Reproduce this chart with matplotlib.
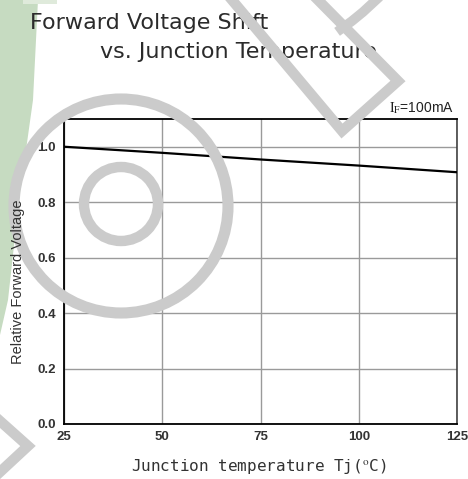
import matplotlib
matplotlib.use("Agg")
import matplotlib.pyplot as plt
from matplotlib.patches import Circle, Polygon, Rectangle

# data
tj = [25, 50, 75, 100, 125]
vf_rel = [1.0, 0.978, 0.954, 0.932, 0.908]

x_ticks = [25, 50, 75, 100, 125]
y_ticks = [0.0, 0.2, 0.4, 0.6, 0.8, 1.0]
y_tick_labels = ["0.0", "0.2", "0.4", "0.6", "0.8", "1.0"]

W, H = 468, 479
plt.rcParams["mathtext.fontset"] = "stix"

fig = plt.figure(figsize=(W / 100, H / 100), dpi=100)
fig.patch.set_facecolor("white")

def fx(x):
    return x / W

def fy(y):
    return 1 - y / H

# background layer (green band on the left edge)
bg = fig.add_axes([0, 0, 1, 1], zorder=0)
bg.set_xlim(0, W)
bg.set_ylim(H, 0)
bg.axis("off")
bg.add_patch(Polygon([(0, 0), (38, 0), (33, 100), (19, 200), (8, 300), (0, 335)],
                     closed=True, facecolor="#c6dbc1", edgecolor="none"))
bg.add_patch(Rectangle((23, 0), 34, 4, facecolor="#dfeadb", edgecolor="none"))

# main chart
ax = fig.add_axes([fx(64), fy(424), fx(457 - 64), (424 - 119) / H], zorder=1)
ax.plot(tj, vf_rel, color="black", lw=1.6, zorder=3)
ax.set_xlim(25, 125)
ax.set_ylim(0, 1.1)
ax.set_xticks(x_ticks)
ax.set_yticks(y_ticks)
ax.set_yticklabels(y_tick_labels)
ax.grid(True, color="#9a9a9a", lw=1.0)
ax.tick_params(length=0, labelsize=9.5, labelcolor="#333333")
ax.tick_params(axis="y", pad=6)
ax.tick_params(axis="x", pad=5)
for lab in ax.get_xticklabels() + ax.get_yticklabels():
    lab.set_family("Liberation Sans")
    lab.set_fontweight("bold")
for side in ["left", "bottom", "top"]:
    ax.spines[side].set_color("black")
    ax.spines[side].set_linewidth(1.3)
ax.spines["right"].set_color("#333333")
ax.spines["right"].set_linewidth(1.1)

# titles and labels
fig.text(fx(30), fy(29), "Forward Voltage Shift", fontsize=16, family="DejaVu Sans",
         color="#2b2b2b", va="baseline")
fig.text(fx(100), fy(58), "vs. Junction Temperature", fontsize=16, family="DejaVu Sans",
         color="#2b2b2b", va="baseline")
fig.text(fx(454), fy(112), r"$\mathrm{I}_{\mathrm{F}}$=100mA", fontsize=10,
         family="Liberation Sans", color="#222222", ha="right", va="baseline")
fig.text(fx(18), fy(282), "Relative Forward Voltage", fontsize=10.5, rotation=90,
         family="Liberation Sans", color="#333333", ha="center", va="center", zorder=6)
fig.text(fx(259), fy(467), r"Junction temperature Tj($^{\mathrm{o}}$C)", fontsize=11.5,
         family="DejaVu Sans Mono", color="#333333", ha="center", va="center")

# watermark overlay
wm = fig.add_axes([0, 0, 1, 1], zorder=5)
wm.set_xlim(0, W)
wm.set_ylim(H, 0)
wm.axis("off")
wm.patch.set_alpha(0)
gray = "#cbcbcb"
wm.add_patch(Circle((121, 206), 107, fill=False, edgecolor=gray, lw=8))
wm.add_patch(Circle((121, 204), 37, fill=False, edgecolor=gray, lw=7.5))
wm.plot([232, 342, 398, 318], [0, 131, 81, 0], color=gray, lw=7.5,
        solid_joinstyle="miter")
wm.plot([341, 352, 363, 376], [29, 21, 12, 0], color=gray, lw=7)
wm.plot([0, 28, 0], [421, 446, 472], color=gray, lw=7.5, solid_joinstyle="miter")

fig.savefig("out.png", dpi=100)
